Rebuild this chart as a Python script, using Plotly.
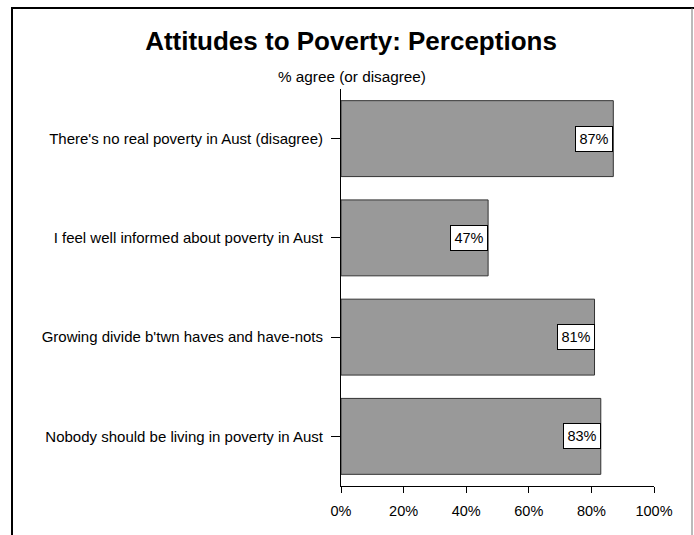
import plotly.graph_objects as go

# Survey statements (top to bottom) and share agreeing (or disagreeing), in %
statements = [
    "There's no real poverty in Aust (disagree)",
    "I feel well informed about poverty in Aust",
    "Growing divide b'twn haves and have-nots",
    "Nobody should be living in poverty in Aust",
]
agree_pct = [87, 47, 81, 83]
x_ticks = [0, 20, 40, 60, 80, 100]
x_tick_text = ["0%", "20%", "40%", "60%", "80%", "100%"]

W, H = 694, 535
L, R, T, B = 341, 40, 89, 49
plot_w = W - L - R
plot_h = H - T - B


def px_to_paper_x(px):
    return (px - L) / plot_w


def px_to_paper_y(py):
    return (H - B - py) / plot_h


FONT = "Liberation Sans, Arial, sans-serif"

fig = go.Figure(
    go.Bar(
        y=statements,
        x=agree_pct,
        orientation="h",
        marker=dict(color="#999999", line=dict(color="#333333", width=1)),
        width=0.765,
        hoverinfo="skip",
    )
)

# value boxes at the end of each bar
for s, v in zip(statements, agree_pct):
    fig.add_annotation(
        x=v, y=s, xref="x", yref="y",
        text=f"{v}%", showarrow=False,
        xanchor="right", yanchor="middle",
        width=30, height=18, align="center", valign="middle",
        bgcolor="white", bordercolor="black", borderwidth=1, borderpad=3,
        font=dict(family=FONT, size=14.5, color="black"),
    )

# axis caption above the plot
fig.add_annotation(
    x=px_to_paper_x(352), y=px_to_paper_y(76), xref="paper", yref="paper",
    text="% agree (or disagree)", showarrow=False,
    xanchor="center", yanchor="middle",
    font=dict(family=FONT, size=15.3, color="black"),
)

# frame around the chart
fig.add_shape(type="line", xref="paper", yref="paper",
              x0=px_to_paper_x(12), x1=px_to_paper_x(12),
              y0=px_to_paper_y(8), y1=px_to_paper_y(545),
              line=dict(color="black", width=2))
fig.add_shape(type="line", xref="paper", yref="paper",
              x0=px_to_paper_x(11), x1=px_to_paper_x(694),
              y0=px_to_paper_y(8), y1=px_to_paper_y(8),
              line=dict(color="black", width=2))
fig.add_shape(type="line", xref="paper", yref="paper",
              x0=px_to_paper_x(692), x1=px_to_paper_x(692),
              y0=px_to_paper_y(8), y1=px_to_paper_y(545),
              line=dict(color="#777777", width=1))

fig.update_layout(
    width=W, height=H,
    margin=dict(l=L, r=R, t=T, b=B, pad=0),
    paper_bgcolor="white", plot_bgcolor="white",
    showlegend=False,
    font=dict(family=FONT, size=14.5, color="black"),
    title=dict(
        text="<b>Attitudes to Poverty: Perceptions</b>",
        x=351 / W, xanchor="center", xref="container",
        y=1 - 41 / H, yanchor="middle", yref="container",
        font=dict(family=FONT, size=26, color="black"),
    ),
    xaxis=dict(
        range=[0, 100], tickvals=x_ticks, ticktext=x_tick_text,
        showgrid=False, zeroline=False,
        showline=True, linecolor="black", linewidth=1,
        ticks="outside", ticklen=6, tickcolor="black",
        ticklabelstandoff=6,
        tickfont=dict(family=FONT, size=14.5, color="black"),
    ),
    yaxis=dict(
        categoryorder="array", categoryarray=statements[::-1],
        range=[-0.5, 3.5],
        showgrid=False, zeroline=False,
        showline=True, linecolor="black", linewidth=1,
        ticks="outside", ticklen=9, tickcolor="black",
        ticklabelstandoff=5,
        tickfont=dict(family=FONT, size=15, color="black"),
    ),
)

fig.write_html("out.html")
